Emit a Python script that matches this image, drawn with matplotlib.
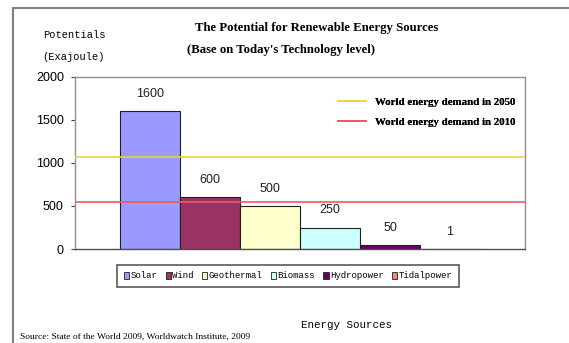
import matplotlib
matplotlib.use('Agg')
import matplotlib.pyplot as plt
from matplotlib.lines import Line2D
from matplotlib.patches import Patch

# data
sources = ['Solar', 'Wind', 'Geothermal', 'Biomass', 'Hydropower', 'Tidalpower']
potentials = [1600, 600, 500, 250, 50, 1]
bar_colors = ['#9999ff', '#993366', '#ffffcc', '#ccffff', '#660066', '#ff8080']
demand_labels = ['World energy demand in 2050', 'World energy demand in 2010']
demand_values = [1070, 545]
demand_colors = ['#e8d43a', '#ee5a5a']
yticks = [0, 500, 1000, 1500, 2000]

mono = ['Liberation Mono', 'DejaVu Sans Mono']
narrow = ['Liberation Sans Narrow', 'Liberation Sans', 'DejaVu Sans']
serif = ['Liberation Serif', 'DejaVu Serif']

fig = plt.figure(figsize=(5.69, 3.43), dpi=100)
ax = fig.add_axes([75/569., 1-249/343., 450/569., 172/343.])

x = range(len(sources))
bars = ax.bar(x, potentials, width=1.0, color=bar_colors, edgecolor='#202020', linewidth=0.8, zorder=2)
for b, v in zip(bars, potentials):
    ax.annotate('%d' % v, (b.get_x()+b.get_width()/2., v), xytext=(0, 8), textcoords='offset points',
                ha='center', va='bottom', fontsize=9, family=narrow, color='#202020')

for v, c in zip(demand_values, demand_colors):
    ax.axhline(v, color=c, lw=1.2, zorder=3)

ax.set_xlim(-1.25, 6.25)
ax.set_ylim(0, 2000)
ax.set_yticks(yticks)
ax.set_yticklabels([str(t) for t in yticks], family=narrow, fontsize=9)
ax.set_xticks([])
ax.tick_params(axis='y', length=3, width=0.8, color='#404040', pad=5)
for s in ax.spines.values():
    s.set_color('#909090')
    s.set_linewidth(1.0)
ax.spines['bottom'].set_color('#505050')

# demand line legend
handles = [Line2D([], [], color=c, lw=1.2) for c in demand_colors]
leg = ax.legend(handles, demand_labels, loc='upper right', bbox_to_anchor=(1.0, 0.94), frameon=False,
                handlelength=2.6, labelspacing=1.0, prop={'family': serif, 'weight': 'bold', 'size': 7.8})
ax.add_artist(leg)

# category legend under the plot
patches = [Patch(facecolor=c, edgecolor='#202020', lw=0.6) for c in bar_colors]
leg2 = fig.legend(patches, sources, loc='center', bbox_to_anchor=(288/569., 1-276/343.), ncol=6,
                  handlelength=0.6, handleheight=0.9, handletextpad=0.15, columnspacing=0.9,
                  borderpad=0.7, fancybox=False, prop={'family': mono, 'size': 6.5})
leg2.get_frame().set_edgecolor('#303030')
leg2.get_frame().set_linewidth(1.2)

# titles and labels
fig.text(195/569., 1-28/343., 'The Potential for Renewable Energy Sources', family=serif,
         weight='bold', fontsize=9.2, va='center', ha='left')
fig.text(187/569., 1-50/343., "(Base on Today's Technology level)", family=serif,
         weight='bold', fontsize=9.2, va='center', ha='left')
fig.text(74/569., 1-35/343., 'Potentials', family=mono, fontsize=7.5, ha='center', va='center')
fig.text(74/569., 1-57/343., '(Exajoule)', family=mono, fontsize=7.5, ha='center', va='center')
fig.text(346/569., 1-325/343., 'Energy Sources', family=mono, fontsize=7.8, ha='center', va='center')
fig.text(20/569., 1-337/343., 'Source: State of the World 2009, Worldwatch Institute, 2009', family=serif,
         fontsize=6.8, ha='left', va='center')

# outer chart frame
fig.add_artist(Line2D([13/569., 13/569.], [0, 1-8/343.], transform=fig.transFigure, color='#808080', lw=1.5))
fig.add_artist(Line2D([13/569., 1], [1-8/343., 1-8/343.], transform=fig.transFigure, color='#808080', lw=1.5))

fig.savefig('out.png', dpi=100)
